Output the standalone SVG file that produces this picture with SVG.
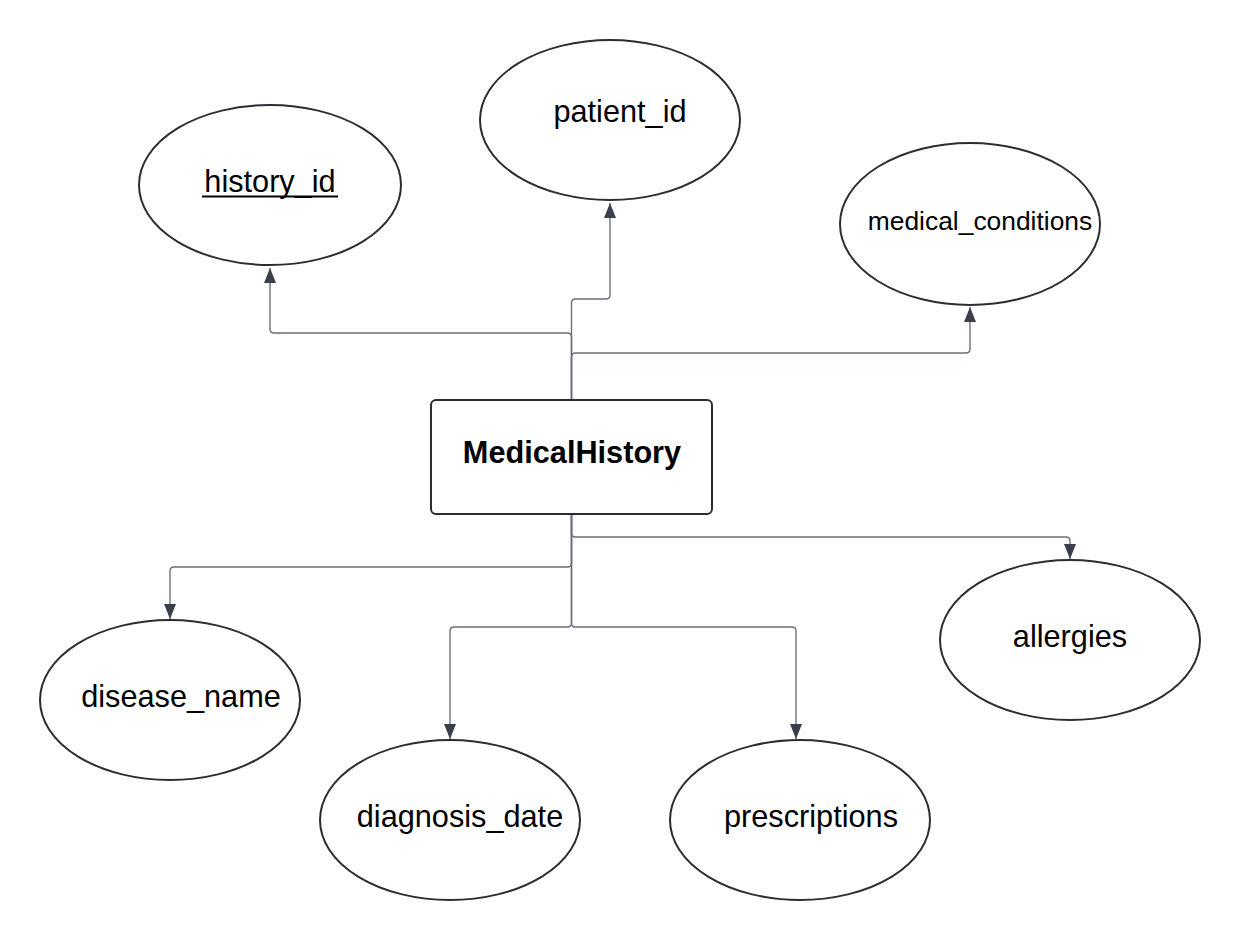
<svg xmlns="http://www.w3.org/2000/svg" width="1240" height="940" viewBox="0 0 1240 940">
  <defs>
    <marker id="arrow" viewBox="0 0 15 12" refX="15" refY="6" markerWidth="15" markerHeight="12" markerUnits="userSpaceOnUse" orient="auto">
      <path d="M0,0 L15,6 L0,12 Z" fill="#3a3f4a"/>
    </marker>
    <style>
      .attr { fill: #ffffff; stroke: #2b2d33; stroke-width: 2; }
      .entity { fill: #ffffff; stroke: #2b2d33; stroke-width: 2; }
      .label { font-family: "Liberation Sans", Arial, sans-serif; font-size: 30.7px; fill: #000000; text-anchor: middle; }
      .small { font-size: 26.4px; }
      .title { font-weight: bold; }
      .link { fill: none; stroke: #6b6f78; stroke-width: 1.4; marker-end: url(#arrow); }
    </style>
  </defs>
  <rect width="1240" height="940" fill="#ffffff"/>

  <!-- connectors from the entity to its attributes -->
  <g id="connectors">
    <path class="link" d="M571.5,400 V337 Q571.5,333 567.5,333 H274 Q270,333 270,329 V268"/>
    <path class="link" d="M571.5,400 V303 Q571.5,299 575.5,299 H606 Q610,299 610,295 V203"/>
    <path class="link" d="M571.5,400 V357 Q571.5,353 575.5,353 H966 Q970,353 970,349 V307"/>
    <path class="link" d="M571.5,514 V533 Q571.5,537 575.5,537 H1066 Q1070,537 1070,541 V559"/>
    <path class="link" d="M571.5,514 V563 Q571.5,567 567.5,567 H174 Q170,567 170,571 V619"/>
    <path class="link" d="M571.5,514 V623 Q571.5,627 567.5,627 H454 Q450,627 450,631 V739"/>
    <path class="link" d="M571.5,514 V623 Q571.5,627 575.5,627 H792 Q796,627 796,631 V739"/>
  </g>

  <g id="MedicalHistory">
    <rect class="entity" x="431" y="400" width="281" height="114" rx="5"/>
    <text class="label title" x="572" y="463">MedicalHistory</text>
  </g>

  <g id="history_id">
    <ellipse class="attr" cx="270" cy="185" rx="131" ry="80"/>
    <text class="label" x="270" y="192">history_id</text>
    <line x1="202" y1="196.5" x2="338" y2="196.5" stroke="#000000" stroke-width="2"/>
  </g>

  <g id="patient_id">
    <ellipse class="attr" cx="610" cy="120" rx="130" ry="80"/>
    <text class="label" x="620" y="122">patient_id</text>
  </g>

  <g id="medical_conditions">
    <ellipse class="attr" cx="970" cy="224" rx="130" ry="81"/>
    <text class="label small" x="980" y="230">medical_conditions</text>
  </g>

  <g id="disease_name">
    <ellipse class="attr" cx="170" cy="700" rx="130" ry="80"/>
    <text class="label" x="181" y="707">disease_name</text>
  </g>

  <g id="diagnosis_date">
    <ellipse class="attr" cx="450" cy="820" rx="130" ry="80"/>
    <text class="label" x="460" y="827">diagnosis_date</text>
  </g>

  <g id="prescriptions">
    <ellipse class="attr" cx="800" cy="820" rx="130" ry="80"/>
    <text class="label" x="811" y="827">prescriptions</text>
  </g>

  <g id="allergies">
    <ellipse class="attr" cx="1070" cy="640" rx="130" ry="80"/>
    <text class="label" x="1070" y="647">allergies</text>
  </g>
</svg>
